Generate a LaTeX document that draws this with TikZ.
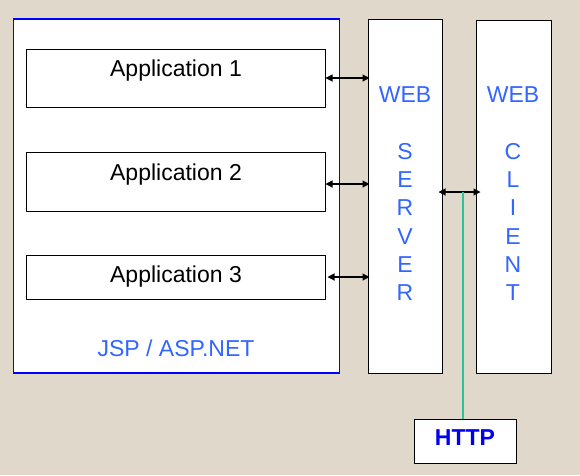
\documentclass[tikz,border=0pt]{standalone}
\usepackage{fontspec}
\setmainfont{Liberation Sans}
\usetikzlibrary{arrows.meta}
\definecolor{bg}{RGB}{224,216,203}
\definecolor{lbl}{RGB}{51,102,255}
\definecolor{httpblue}{RGB}{0,0,240}
\definecolor{wire}{RGB}{40,200,150}
\definecolor{edgeblue}{RGB}{0,0,255}
\begin{document}
\begin{tikzpicture}[x=1pt,y=-1pt,
  box/.style={draw=black,fill=white,line width=1pt,inner sep=0pt},
  txt/.style={font=\fontsize{23}{28}\selectfont,inner sep=0pt,anchor=base},
  bluetxt/.style={txt,text=lbl},
  dbl/.style={line width=1.1pt,{Triangle[length=7pt,width=7pt]}-{Triangle[length=7pt,width=7pt]}}]
\fill[bg] (0,0) rectangle (580,475);
\useasboundingbox (0,0) rectangle (580,475);
% outer container
\node[box,draw=edgeblue,line width=1.5pt,minimum width=326pt,minimum height=354pt] (jsp) at (176.5,196) {};
\node[box,minimum width=299pt,minimum height=58pt] (app1) at (175.5,78) {};
\node[box,minimum width=299pt,minimum height=59pt] (app2) at (175.5,181.5) {};
\node[box,minimum width=299pt,minimum height=44pt] (app3) at (175.5,277) {};
\node[box,minimum width=74pt,minimum height=354pt] (server) at (405,196) {};
\node[box,minimum width=75pt,minimum height=353pt] (client) at (513.5,196.5) {};
\node[box,minimum width=102pt,minimum height=44pt] (http) at (465,441) {};
% texts
\node[txt] (t1) at (176,76.3) {Application 1};
\node[txt] (t2) at (176,180) {Application 2};
\node[txt] (t3) at (176,282) {Application 3};
\node[bluetxt] (tj) at (176,356.7) {JSP / ASP.NET};
\node[txt,text=httpblue,font=\fontsize{23}{28}\selectfont\bfseries] (th) at (465,445) {HTTP};
\node[bluetxt] (sw) at (405,102.7) {WEB};
\node[bluetxt] (cw) at (513,102.7) {WEB};
\foreach \l [count=\i] in {S,E,R,V,E,R}
  \node[bluetxt] (s\i) at (405,{159.3+28.3*(\i-1)}) {\l};
\foreach \l [count=\i] in {C,L,I,E,N,T}
  \node[bluetxt] (c\i) at (513,{159.3+28.3*(\i-1)}) {\l};
% connectors
\draw[dbl,shorten >=-2pt] (app1.east) -- (app1.east -| server.west);
\draw[dbl,shorten <=-4pt,shorten >=-2pt] ([xshift=4pt,yshift=-2.5pt]app2.east) -- ([yshift=-2.5pt]app2.east -| server.west);
\draw[dbl,shorten >=-2pt] ([xshift=2pt]app3.east) -- (app3.east -| server.west);
\draw[dbl,shorten <=-4pt,shorten >=-5pt] ([yshift=4pt]server.east) -- ([yshift=4pt]server.east -| client.west);
\coordinate (hx) at (463,192.3);
\draw[wire,line width=1.3pt] (hx) -- (hx |- http.north);
\end{tikzpicture}
\end{document}
